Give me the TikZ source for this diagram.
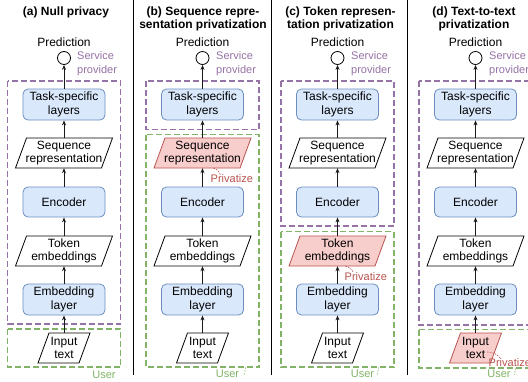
\documentclass[tikz,border=0pt]{standalone}
\usepackage{fontspec}
\setmainfont{Liberation Sans}
\usetikzlibrary{arrows.meta,calc}
\definecolor{bfill}{HTML}{DAE8FC}
\definecolor{bdraw}{HTML}{6C8EBF}
\definecolor{rfill}{HTML}{F8CECC}
\definecolor{rdraw}{HTML}{B85450}
\definecolor{pdraw}{HTML}{9673A6}
\definecolor{gdraw}{HTML}{82B366}
\definecolor{arr}{HTML}{1A1A1A}
\tikzset{
  base/.style={font=\fontsize{12}{13.5}\selectfont, align=center, inner sep=0pt},
  blk/.style={base, draw=bdraw, fill=bfill, rounded corners=5pt, minimum width=82pt, minimum height=31pt, line width=0.8pt},
  ptxt/.style={base, minimum height=30pt},
  plainp/.style={draw=black, fill=white, line width=0.8pt},
  hotp/.style={draw=rdraw, fill=rfill, line width=0.8pt},
  flow/.style={draw=arr, line width=0.9pt, -{Stealth[length=5pt,width=4pt]}},
  spbox/.style={draw=pdraw, dash pattern=on 6pt off 3pt, line width=1.2pt},
  usbox/.style={draw=gdraw, dash pattern=on 6pt off 3pt, line width=1.2pt},
  ttl/.style={font=\bfseries\fontsize{12}{13}\selectfont, align=center, inner sep=0pt},
  lbl/.style={font=\fontsize{11}{14}\selectfont, align=left, inner sep=0pt},
  outc/.style={circle, draw=black, fill=white, minimum size=13pt, inner sep=0pt, line width=0.8pt},
  pmark/.style={draw=rdraw, dash pattern=on 1.5pt off 1.2pt, line width=0.6pt},
  umark/.style={draw=gdraw, dash pattern=on 1.5pt off 1.2pt, line width=0.6pt},
  sep/.style={draw=black, line width=0.8pt}
}
% #1 name, #2 x, #3 y, #4 width, #5 style, #6 text
\newcommand\prl[6]{%
  \draw[#5] (#2-#4/2,#3+15) -- (#2-#4/2+11,#3-15) -- (#2+#4/2,#3-15) -- (#2+#4/2-11,#3+15) -- cycle;
  \node[ptxt] (#1) at (#2,#3) {#6};
}
\begin{document}
\begin{tikzpicture}[x=1pt,y=-1pt]
\path[use as bounding box, clip] (0,0) rectangle (528,381);
\fill[white] (0,0) rectangle (528,381);

% separators
\draw[sep] (133,0) -- (133,375);
\draw[sep] (271.5,0) -- (271.5,375);
\draw[sep] (407,0) -- (407,375);

% ================= (a)
\draw[spbox] (7.5,81) rectangle (120.5,324);
\draw[usbox] (7.5,329) rectangle (120.5,367);
\node[ttl] (ta) at (66,12) {(a) Null privacy};
\node[base] (pa) at (64,42) {Prediction};
\node[outc] (oa) at (64,58) {};
\node[lbl, text=pdraw, anchor=west] (sa) at (77,64) {Service\\provider};
\node[blk] (ka) at (64,104.5) {Task-specific\\layers};
\prl{qa}{64}{153}{97}{plainp}{Sequence\\representation}
\node[blk, minimum height=30pt] (ea) at (64,202) {Encoder};
\prl{wa}{64}{251}{97}{plainp}{Token\\embeddings}
\node[blk] (ma) at (64,299.5) {Embedding\\layer};
\prl{ia}{64}{348}{52}{plainp}{Input\\text}
\node[lbl, text=gdraw] (ua) at (104,375) {User};
\draw[flow] (ia) -- (ma);
\draw[flow] (ma) -- (wa);
\draw[flow] (wa) -- (ea);
\draw[flow] (ea) -- (qa);
\draw[flow] (qa) -- (ka);
\draw[flow] (ka) -- (oa);

% ================= (b)
\draw[spbox] (146,81) rectangle (259,129.5);
\draw[usbox] (146,134.5) rectangle (259,367);
\node[ttl] (tb) at (203,18.5) {(b) Sequence repre-\\sentation privatization};
\node[base] (pb) at (202.5,42) {Prediction};
\node[outc] (ob) at (202.5,58) {};
\node[lbl, text=pdraw, anchor=west] (sb) at (216,64) {Service\\provider};
\node[blk] (kb) at (202.5,104.5) {Task-specific\\layers};
\prl{qb}{202.5}{153}{97}{hotp}{Sequence\\representation}
\node[lbl, text=rdraw, anchor=west] (vb) at (210.5,179) {Privatize};
\draw[pmark] ($(qb.south)+(11,0)$) to[bend left=25] ($(vb.north west)+(10,0)$);
\node[blk, minimum height=30pt] (eb) at (202.5,202) {Encoder};
\prl{wb}{202.5}{251}{97}{plainp}{Token\\embeddings}
\node[blk] (mb) at (202.5,299.5) {Embedding\\layer};
\prl{ib}{202.5}{348}{52}{plainp}{Input\\text}
\node[lbl, text=gdraw] (ub) at (227.5,374) {User};
\draw[umark] (245.5,367.5) -- (244.5,374.5);
\draw[flow] (ib) -- (mb);
\draw[flow] (mb) -- (wb);
\draw[flow] (wb) -- (eb);
\draw[flow] (eb) -- (qb);
\draw[flow] (qb) -- (kb);
\draw[flow] (kb) -- (ob);

% ================= (c)
\draw[spbox] (281,81) rectangle (394,226);
\draw[usbox] (281,231.5) rectangle (394,367);
\node[ttl] (tc) at (340.5,18.5) {(c) Token represen-\\tation privatization};
\node[base] (pc) at (337.5,42) {Prediction};
\node[outc] (oc) at (337.5,58) {};
\node[lbl, text=pdraw, anchor=west] (sc) at (351,64) {Service\\provider};
\node[blk] (kc) at (337.5,104.5) {Task-specific\\layers};
\prl{qc}{337.5}{153}{97}{plainp}{Sequence\\representation}
\node[blk, minimum height=30pt] (ec) at (337.5,202) {Encoder};
\prl{wc}{337.5}{251}{97}{hotp}{Token\\embeddings}
\node[lbl, text=rdraw, anchor=west] (vc) at (344.5,277) {Privatize};
\draw[pmark] ($(wc.south)+(8,0)$) to[bend left=25] ($(vc.north west)+(9,0)$);
\node[blk] (mc) at (337.5,299.5) {Embedding\\layer};
\prl{ic}{337.5}{348}{52}{plainp}{Input\\text}
\node[lbl, text=gdraw] (uc) at (362.5,374) {User};
\draw[umark] (378.5,367.5) -- (377.5,374.5);
\draw[flow] (ic) -- (mc);
\draw[flow] (mc) -- (wc);
\draw[flow] (wc) -- (ec);
\draw[flow] (ec) -- (qc);
\draw[flow] (qc) -- (kc);
\draw[flow] (kc) -- (oc);

% ================= (d)
\draw[spbox] (419,81) rectangle (532,325);
\draw[usbox] (419,329.5) rectangle (532,368);
\node[ttl] (td) at (474,18.5) {(d) Text-to-text\\privatization};
\node[base] (pd) at (475.5,42) {Prediction};
\node[outc] (od) at (475.5,58) {};
\node[lbl, text=pdraw, anchor=west] (sd) at (489,64) {Service\\provider};
\node[blk] (kd) at (475.5,104.5) {Task-specific\\layers};
\prl{qd}{475.5}{153}{97}{plainp}{Sequence\\representation}
\node[blk, minimum height=30pt] (ed) at (475.5,202) {Encoder};
\prl{wd}{475.5}{251}{97}{plainp}{Token\\embeddings}
\node[blk] (md) at (475.5,299.5) {Embedding\\layer};
\prl{id}{475.5}{348}{52}{hotp}{Input\\text}
\node[lbl, text=rdraw, anchor=west] (vd) at (488.5,362.5) {Privatize};
\draw[pmark] ($(id.east)+(-2,4)$) to[bend left=25] ($(vd.north west)+(12,0)$);
\node[lbl, text=gdraw] (ud) at (499,374) {User};
\draw[umark] (515.5,368.5) -- (514.5,374.5);
\draw[flow] (id) -- (md);
\draw[flow] (md) -- (wd);
\draw[flow] (wd) -- (ed);
\draw[flow] (ed) -- (qd);
\draw[flow] (qd) -- (kd);
\draw[flow] (kd) -- (od);
\end{tikzpicture}
\end{document}
